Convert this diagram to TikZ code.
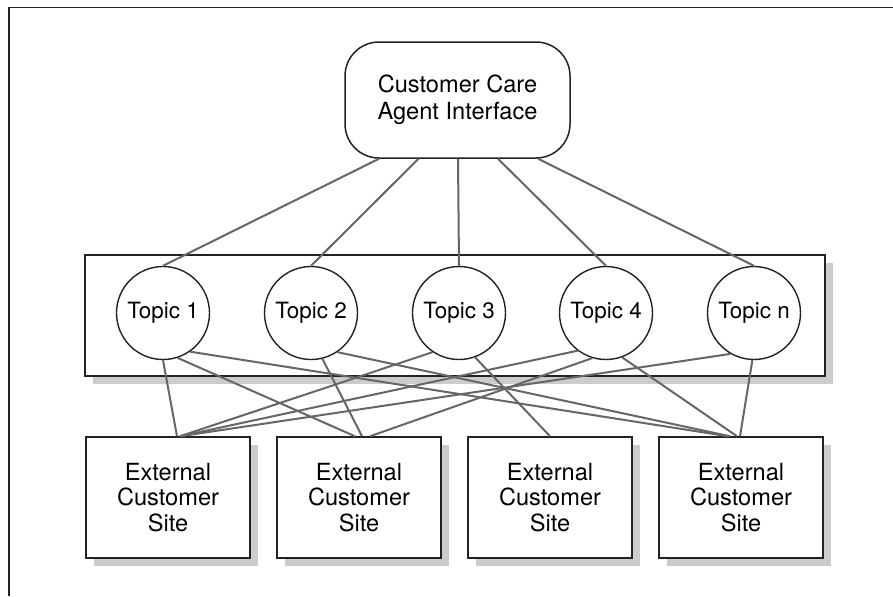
\documentclass[tikz,border=0pt]{standalone}
\usepackage{fontspec}
\setmainfont{TeX Gyre Heros}
\usetikzlibrary{shadows}
\definecolor{linkgray}{HTML}{666666}
\definecolor{edge}{HTML}{222222}
\begin{document}
\begin{tikzpicture}[x=0.5pt,y=-0.5pt,
  shadowed/.style={drop shadow={shadow xshift=4pt,shadow yshift=-4pt,fill=black!20,opacity=1}},
  panel/.style={draw=edge,line width=0.75pt,fill=white,shadowed,inner sep=0pt},
  agentbox/.style={draw=edge,line width=0.75pt,fill=white,rounded corners=17pt,align=center,
    minimum width=112.5pt,minimum height=58pt,font=\fontsize{11.8pt}{13.5pt}\selectfont,inner sep=0pt},
  topic/.style={draw=edge,line width=0.7pt,fill=white,circle,minimum size=46.5pt,inner sep=0pt,
    font=\fontsize{11.2pt}{13pt}\selectfont},
  site/.style={draw=edge,line width=0.75pt,fill=white,shadowed,align=center,
    minimum width=82pt,minimum height=60.5pt,inner sep=0pt,font=\fontsize{11.8pt}{12.75pt}\selectfont},
  link/.style={draw=linkgray,line width=1pt},
  frameline/.style={draw=edge,line width=0.75pt}
]
\useasboundingbox (0,0) rectangle (893,596);
\draw[frameline] (9,596) -- (9,7.5) -- (893,7.5);

\node[panel,minimum width=370pt,minimum height=60.5pt] (panel) at (455,315.5) {};
\node[agentbox] (agent) at (457.5,100) {Customer Care\\Agent Interface};

\node[topic] (t1) at (163,313) {Topic 1};
\node[topic] (t2) at (311,313) {Topic 2};
\node[topic] (t3) at (459,313) {Topic 3};
\node[topic] (t4) at (606,313) {Topic 4};
\node[topic] (tn) at (754,313) {Topic n};

\node[site] (s1) at (168,497.5) {External\\Customer\\Site};
\node[site] (s2) at (359,497.5) {External\\Customer\\Site};
\node[site] (s3) at (550,497.5) {External\\Customer\\Site};
\node[site] (s4) at (741,497.5) {External\\Customer\\Site};

\draw[link] ([xshift=-39.25pt]agent.south) -- (t1.north);
\draw[link] ([xshift=-19.5pt]agent.south) -- (t2.north);
\draw[link] ([xshift=0.25pt]agent.south) -- (t3.north);
\draw[link] ([xshift=20.25pt]agent.south) -- (t4.north);
\draw[link] ([xshift=40.25pt]agent.south) -- (tn.north);

\draw[link] (t1.south) -- ([xshift=4.5pt]s1.north);
\draw[link] (t1.-72) -- ([xshift=-2pt]s2.north);
\draw[link] (t1.-55) -- ([xshift=-6.5pt]s4.north);
\draw[link] (t2.-76) -- ([xshift=1.5pt]s2.north);
\draw[link] (t2.-56) -- ([xshift=-5.5pt]s4.north);
\draw[link] (t3.-124) -- ([xshift=6pt]s1.north);
\draw[link] (t3.-70) -- (s3.north);
\draw[link] (t4.-127) -- ([xshift=6pt]s1.north);
\draw[link] (t4.-107) -- ([xshift=5.5pt]s2.north);
\draw[link] (t4.-70) -- ([xshift=-2pt]s4.north);
\draw[link] (tn.-120) -- ([xshift=6pt]s1.north);
\draw[link] (tn.-92) -- ([xshift=-0.5pt]s4.north);
\end{tikzpicture}
\end{document}
